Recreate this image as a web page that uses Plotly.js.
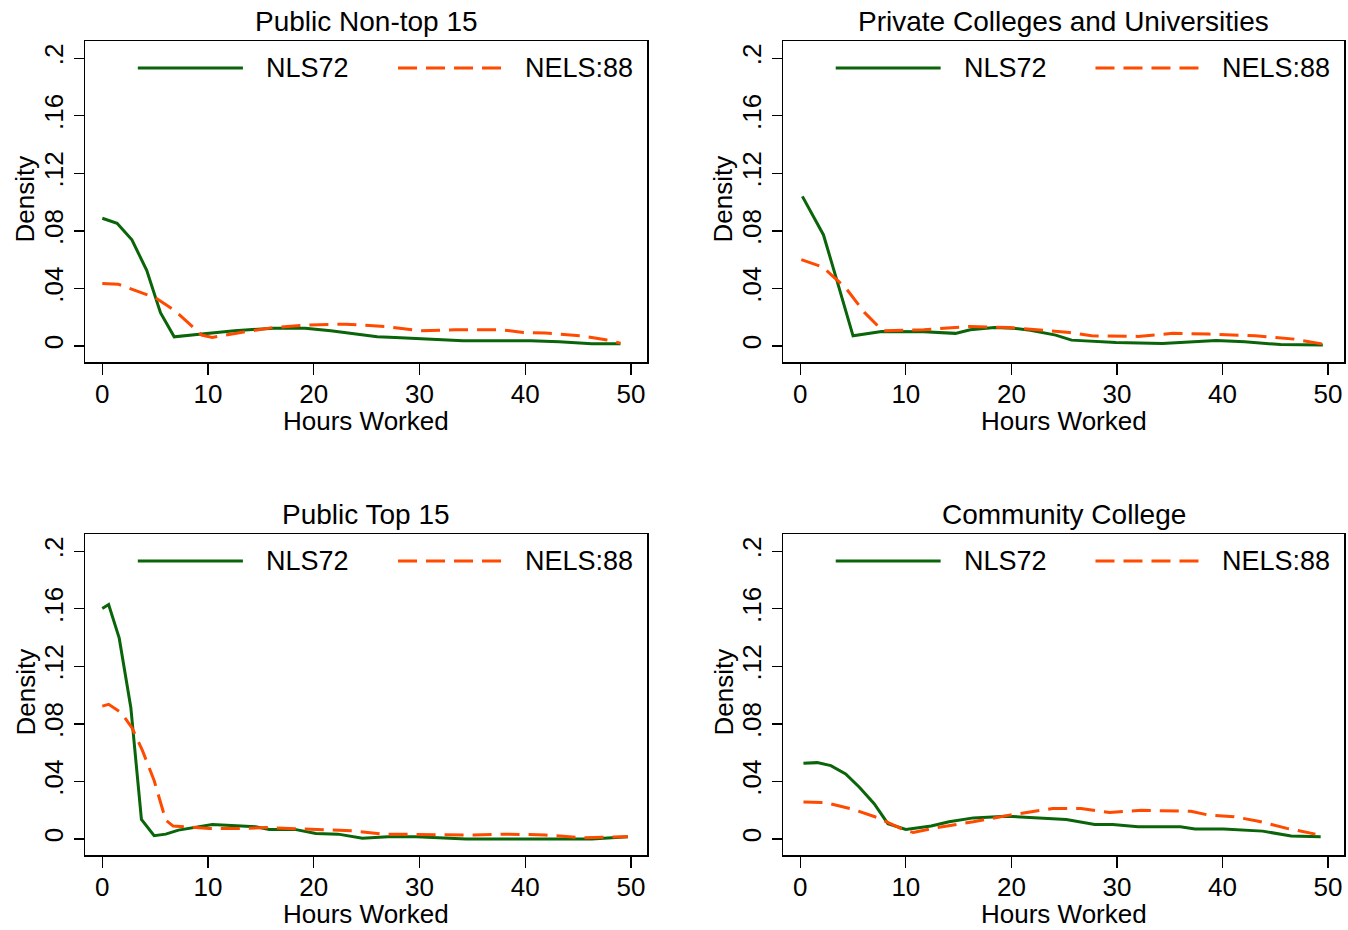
<!DOCTYPE html>
<html>
<head>
<meta charset="utf-8">
<script src="https://cdn.plot.ly/plotly-3.0.1.min.js"></script>
<style>html,body{margin:0;padding:0;background:#fff;}#chart{width:1348px;height:930px;}</style>
</head>
<body>
<div id="chart"></div>
<script>
// ---- Data ----
var panelTitles = ["Public Non-top 15", "Private Colleges and Universities", "Public Top 15", "Community College"];
var seriesNames = ["NLS72", "NELS:88"];
var xTickVals = [0, 10, 20, 30, 40, 50];
var yTickVals = [0, 0.04, 0.08, 0.12, 0.16, 0.2];
var yTickText = ["0", ".04", ".08", ".12", ".16", ".2"];
var xAxisTitle = "Hours Worked";
var yAxisTitle = "Density";

// Public Non-top 15
var pubNonTop_NLS72_hours   = [0, 1.4, 2.8, 4.2, 5.5, 6.8, 9.4, 12.5, 16.2, 19.2, 21.6, 26.0, 27.7, 34.1, 40.5, 43.2, 46.3, 49.0];
var pubNonTop_NLS72_density = [0.0888, 0.0853, 0.0738, 0.0526, 0.0232, 0.0064, 0.0083, 0.0106, 0.0124, 0.0124, 0.0106, 0.0064, 0.0060, 0.0037, 0.0037, 0.0030, 0.0016, 0.0016];
var pubNonTop_NELS_hours    = [0, 1.5, 5.0, 6.9, 9.4, 10.4, 13.1, 16.2, 19.6, 23.0, 26.7, 30.0, 33.4, 37.8, 39.8, 41.9, 45.3, 47.6, 49.0];
var pubNonTop_NELS_density  = [0.0434, 0.0430, 0.0336, 0.0244, 0.0076, 0.0060, 0.0094, 0.0129, 0.0147, 0.0152, 0.0136, 0.0106, 0.0113, 0.0113, 0.0094, 0.0090, 0.0071, 0.0044, 0.0020];

// Private Colleges and Universities
var private_NLS72_hours   = [0.2, 2.2, 3.4, 5.0, 7.7, 11.7, 14.7, 16.1, 18.4, 20.1, 21.8, 24.2, 25.7, 29.9, 34.3, 37.0, 39.4, 42.1, 45.5, 49.5];
var private_NLS72_density = [0.1040, 0.0772, 0.0474, 0.0071, 0.0101, 0.0099, 0.0088, 0.0113, 0.0129, 0.0124, 0.0110, 0.0076, 0.0041, 0.0025, 0.0018, 0.0030, 0.0039, 0.0030, 0.0010, 0.0007];
var private_NELS_hours    = [0.1, 2.1, 4.3, 6.1, 7.8, 11.7, 16.1, 19.8, 25.5, 27.6, 32.0, 35.3, 38.7, 43.1, 46.8, 49.5];
var private_NELS_density  = [0.0600, 0.0550, 0.0404, 0.0232, 0.0106, 0.0113, 0.0136, 0.0129, 0.0094, 0.0071, 0.0067, 0.0088, 0.0083, 0.0071, 0.0048, 0.0014];

// Public Top 15
var pubTop_NLS72_hours   = [0, 0.6, 1.6, 2.7, 3.7, 4.9, 6.0, 7.2, 10.4, 14.5, 15.8, 18.2, 20.2, 22.3, 24.6, 27.0, 29.7, 34.4, 46.3, 49.7];
var pubTop_NLS72_density = [0.1602, 0.1630, 0.1396, 0.0913, 0.0136, 0.0023, 0.0034, 0.0062, 0.0101, 0.0085, 0.0067, 0.0067, 0.0039, 0.0034, 0.0005, 0.0016, 0.0016, 0.0000, 0.0000, 0.0016];
var pubTop_NELS_hours    = [0, 0.6, 1.8, 2.8, 3.8, 4.9, 6.0, 6.7, 10.1, 13.5, 15.5, 19.9, 23.6, 26.7, 30.4, 35.1, 38.5, 41.9, 45.3, 49.7];
var pubTop_NELS_density  = [0.0924, 0.0936, 0.0878, 0.0774, 0.0614, 0.0407, 0.0131, 0.0090, 0.0074, 0.0074, 0.0080, 0.0067, 0.0057, 0.0034, 0.0032, 0.0028, 0.0034, 0.0028, 0.0009, 0.0016];

// Community College
var cc_NLS72_hours   = [0.3, 1.6, 2.9, 4.3, 5.6, 7.0, 8.3, 10.0, 12.4, 14.1, 16.4, 19.5, 25.2, 27.9, 29.6, 32.0, 36.0, 37.4, 40.1, 43.8, 46.5, 49.3];
var cc_NLS72_density = [0.0526, 0.0531, 0.0510, 0.0453, 0.0360, 0.0246, 0.0107, 0.0067, 0.0090, 0.0120, 0.0147, 0.0159, 0.0136, 0.0101, 0.0101, 0.0085, 0.0085, 0.0069, 0.0069, 0.0055, 0.0021, 0.0016];
var cc_NELS_hours    = [0.3, 2.4, 5.0, 7.3, 9.7, 10.7, 13.0, 16.4, 19.8, 23.9, 26.6, 29.3, 32.3, 37.0, 38.7, 41.1, 43.4, 46.1, 48.8];
var cc_NELS_density  = [0.0257, 0.0253, 0.0207, 0.0149, 0.0067, 0.0046, 0.0080, 0.0120, 0.0166, 0.0212, 0.0212, 0.0184, 0.0200, 0.0193, 0.0166, 0.0155, 0.0124, 0.0074, 0.0034];

var panelData = [
  [[pubNonTop_NLS72_hours, pubNonTop_NLS72_density], [pubNonTop_NELS_hours, pubNonTop_NELS_density]],
  [[private_NLS72_hours, private_NLS72_density], [private_NELS_hours, private_NELS_density]],
  [[pubTop_NLS72_hours, pubTop_NLS72_density], [pubTop_NELS_hours, pubTop_NELS_density]],
  [[cc_NLS72_hours, cc_NLS72_density], [cc_NELS_hours, cc_NELS_density]]
];

// ---- Styles ----
var W = 1348, H = 930;
var FONT = "Liberation Sans, Arial, Helvetica, sans-serif";
var colors = ["#0a640a", "#ff4a00"];
var dashes = ["solid", "19px,9px"];
var lineW = 3;
// frame boxes in pixels: [left, right, top, bottom]
var boxes = [[85, 647, 41, 362], [783, 1344, 41, 362], [85, 647, 534, 855], [783, 1344, 534, 855]];
var xRange = [-1.636, 51.51];
var yRange = [-0.0111, 0.2120];

var traces = [];
var layout = {
  width: W, height: H,
  margin: {l: 0, r: 0, t: 0, b: 0},
  paper_bgcolor: "#ffffff", plot_bgcolor: "#ffffff",
  showlegend: false,
  font: {family: FONT, size: 26, color: "#000"},
  annotations: [], shapes: []
};

for (var p = 0; p < 4; p++) {
  var sfx = p === 0 ? "" : String(p + 1);
  var xa = "x" + sfx, ya = "y" + sfx;
  var b = boxes[p];
  for (var s = 0; s < 2; s++) {
    traces.push({
      type: "scatter", mode: "lines",
      x: panelData[p][s][0], y: panelData[p][s][1],
      name: seriesNames[s], xaxis: xa, yaxis: ya,
      line: {color: colors[s], width: lineW, dash: dashes[s]},
      hoverinfo: "x+y+name"
    });
  }
  layout["xaxis" + sfx] = {
    domain: [b[0] / W, b[1] / W], anchor: ya,
    range: xRange, tickvals: xTickVals, ticks: "outside", ticklen: 11, tickwidth: 1.3, tickcolor: "#000",
    ticklabelstandoff: -3,
    showline: true, linecolor: "#000", linewidth: 1.5, mirror: true,
    showgrid: false, zeroline: false,
    tickfont: {family: FONT, size: 26, color: "#000"}
  };
  layout["yaxis" + sfx] = {
    domain: [1 - b[3] / H, 1 - b[2] / H], anchor: xa,
    range: yRange, tickvals: yTickVals, ticktext: yTickText, tickangle: -90,
    ticks: "outside", ticklen: 10, tickwidth: 1.3, tickcolor: "#000",
    showline: true, linecolor: "#000", linewidth: 1.5, mirror: true,
    showgrid: false, zeroline: false,
    tickfont: {family: FONT, size: 26, color: "#000"}
  };
  // panel title
  layout.annotations.push({
    xref: xa + " domain", yref: ya + " domain", x: 0.5, y: 1, yanchor: "bottom", yshift: 2,
    text: panelTitles[p], showarrow: false, font: {family: FONT, size: 28, color: "#000"}
  });
  // axis titles
  layout.annotations.push({
    xref: xa + " domain", yref: ya + " domain", x: 0.5, y: 0, yanchor: "middle", yshift: -59,
    text: xAxisTitle, showarrow: false, font: {family: FONT, size: 26, color: "#000"}
  });
  layout.annotations.push({
    xref: xa + " domain", yref: ya + " domain", x: 0, y: 0.5, xanchor: "center", yanchor: "middle",
    xshift: -60, yshift: 2, textangle: -90,
    text: yAxisTitle, showarrow: false, font: {family: FONT, size: 26, color: "#000"}
  });
  // in-plot legend (line sample + label)
  var legLineX = [[0.094, 0.281], [0.557, 0.744]];
  var legTextX = [0.3185, 0.779];
  var legY = 0.916;
  for (var s2 = 0; s2 < 2; s2++) {
    layout.shapes.push({
      type: "line", xref: xa + " domain", yref: ya + " domain",
      x0: legLineX[s2][0], x1: legLineX[s2][1], y0: legY, y1: legY,
      line: {color: colors[s2], width: lineW, dash: dashes[s2]}
    });
    layout.annotations.push({
      xref: xa + " domain", yref: ya + " domain", x: legTextX[s2], y: legY,
      xanchor: "left", yanchor: "middle", text: seriesNames[s2], showarrow: false,
      font: {family: FONT, size: 27, color: "#000"}
    });
  }
}

Plotly.newPlot("chart", traces, layout, {staticPlot: true, displayModeBar: false});
</script>
</body>
</html>
